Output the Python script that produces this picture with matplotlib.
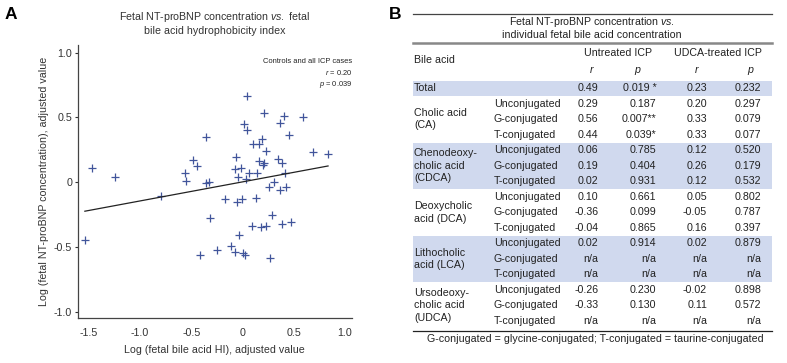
import matplotlib
matplotlib.use("Agg")
import matplotlib.pyplot as plt
from matplotlib.patches import Rectangle

plt.rcParams['font.family'] = ['Liberation Sans', 'DejaVu Sans']
plt.rcParams['mathtext.fontset'] = 'custom'
plt.rcParams['mathtext.rm'] = 'Liberation Sans'
plt.rcParams['mathtext.it'] = 'Liberation Sans:italic'

# ---------------- Panel A data ----------------
x_hi = [0.045, 0.21, 0.41, 0.59, 0.016, 0.37, 0.045, -0.36, 0.45, 0.10,
        0.16, 0.195, 0.234, 0.69, 0.833, -0.06, -0.48, -0.446, -0.557, -0.55,
        0.16, 0.20, 0.21, 0.35, 0.387, -0.07, -0.01, 0.065, 0.143, -0.043,
        0.039, 0.413, -0.36, -0.33, 0.31, 0.257, 0.37, 0.43, -0.795, -0.173,
        -0.053, 0.0, 0.13, -0.313, 0.286, 0.094, 0.178, 0.23, 0.384, 0.47,
        -0.033, -0.117, -0.25, -0.072, 0.006, 0.02, -0.414, 0.27, -1.47, -1.25,
        -1.54]
y_bnp = [0.664, 0.53, 0.51, 0.50, 0.448, 0.456, 0.40, 0.35, 0.36, 0.293,
         0.293, 0.335, 0.24, 0.234, 0.216, 0.196, 0.17, 0.121, 0.072, 0.01,
         0.16, 0.131, 0.144, 0.18, 0.144, 0.098, 0.106, 0.067, 0.067, 0.039,
         0.026, 0.067, -0.008, 0.0, 0.002, -0.04, -0.062, -0.041, -0.11, -0.134,
         -0.152, -0.134, -0.124, -0.275, -0.255, -0.337, -0.345, -0.337, -0.327, -0.306,
         -0.412, -0.494, -0.528, -0.538, -0.548, -0.564, -0.566, -0.589, 0.11, 0.04,
         -0.45]
fit_x = [-1.54, 0.836]
fit_slope = 0.147
fit_intercept = 0.001
x_ticks = [-1.5, -1.0, -0.5, 0, 0.5, 1.0]
x_ticklabels = ["-1.5", "-1.0", "-0.5", "0", "0.5", "1.0"]
y_ticks = [-1.0, -0.5, 0, 0.5, 1.0]
y_ticklabels = ["-1.0", "-0.5", "0", "0.5", "1.0"]

# ---------------- Panel B data ----------------
groups = ["Total", "Cholic acid\n(CA)", "Chenodeoxy-\ncholic acid\n(CDCA)",
          "Deoxycholic\nacid (DCA)", "Lithocholic\nacid (LCA)",
          "Ursodeoxy-\ncholic acid\n(UDCA)"]
group_shaded = [True, False, True, False, True, False]
subtypes = ["Unconjugated", "G-conjugated", "T-conjugated"]
r_untreated = ["0.49", "0.29", "0.56", "0.44", "0.06", "0.19", "0.02", "0.10",
               "-0.36", "-0.04", "0.02", "n/a", "n/a", "-0.26", "-0.33", "n/a"]
p_untreated = ["0.019 *", "0.187", "0.007**", "0.039*", "0.785", "0.404", "0.931",
               "0.661", "0.099", "0.865", "0.914", "n/a", "n/a", "0.230", "0.130", "n/a"]
r_udca = ["0.23", "0.20", "0.33", "0.33", "0.12", "0.26", "0.12", "0.05",
          "-0.05", "0.16", "0.02", "n/a", "n/a", "-0.02", "0.11", "n/a"]
p_udca = ["0.232", "0.297", "0.079", "0.077", "0.520", "0.179", "0.532", "0.802",
          "0.787", "0.397", "0.879", "n/a", "n/a", "0.898", "0.572", "n/a"]

W, H = 787, 363
fig = plt.figure(figsize=(W / 100, H / 100), dpi=100)

# ---------------- Panel A ----------------
ax = fig.add_axes([77.7 / W, 1 - 318 / H, (352 - 77.7) / W, (318 - 45) / H])
marker_color = '#41559b'
ax.plot(x_hi, y_bnp, linestyle='none', marker='+', markersize=6.2,
        markeredgewidth=0.9, color=marker_color)
fy = [fit_intercept + fit_slope * v for v in fit_x]
ax.plot(fit_x, fy, color='#222222', lw=0.9)
ax.set_xlim(-1.61, 1.07)
ax.set_ylim(-1.05, 1.058)
ax.set_xticks(x_ticks)
ax.set_xticklabels(x_ticklabels)
ax.set_yticks(y_ticks)
ax.set_yticklabels(y_ticklabels)
for s in ['top', 'right']:
    ax.spines[s].set_visible(False)
for s in ['left', 'bottom']:
    ax.spines[s].set_color('#444444')
    ax.spines[s].set_linewidth(0.9)
fa = 7.7
ax.tick_params(axis='x', length=0, pad=7, labelsize=fa, colors='#333333')
ax.tick_params(axis='y', length=2.5, width=0.8, pad=1.5, labelsize=fa,
               colors='#333333')
ax.set_xlabel("Log (fetal bile acid HI), adjusted value", fontsize=fa,
              color='#333333', labelpad=5.5)
ax.set_ylabel("Log (fetal NT-proBNP concentration), adjusted value",
              fontsize=fa, color='#333333', labelpad=3.5)
ax.set_title("Fetal NT-proBNP concentration $\\mathit{vs.}$ fetal\n"
             "bile acid hydrophobicity index", fontsize=fa, color='#333333',
             pad=8, linespacing=1.2)
ax.text(1.0, 0.94, "Controls and all ICP cases", transform=ax.transAxes,
        ha='right', va='center', fontsize=5.4, color='#222222')
ax.text(1.0, 0.898, "$\\mathit{r}$ = 0.20", transform=ax.transAxes,
        ha='right', va='center', fontsize=5.4, color='#222222')
ax.text(1.0, 0.856, "$\\mathit{p}$ = 0.039", transform=ax.transAxes,
        ha='right', va='center', fontsize=5.4, color='#222222')

# ---------------- Panel B (table) ----------------
tb = fig.add_axes([0, 0, 1, 1])
tb.set_xlim(0, W)
tb.set_ylim(H, 0)
tb.axis('off')

fig.text(10.7 / W, 1 - 14.5 / H, "A", fontsize=12.5, fontweight='bold',
         ha='center', va='center')
fig.text(395 / W, 1 - 14.5 / H, "B", fontsize=12.5, fontweight='bold',
         ha='center', va='center')

x0, x1 = 412.7, 771.5
fs = 7.7
tc = '#222222'
tb.plot([x0, x1], [14, 14], color='#444444', lw=0.9)
tb.plot([x0, x1], [43, 43], color='#888888', lw=1.8)
tb.plot([x0, x1], [331, 331], color='#222222', lw=0.9)
tb.text((x0 + x1) / 2, 22, "Fetal NT-proBNP concentration $\\mathit{vs.}$",
        ha='center', va='center', fontsize=fs, color=tc)
tb.text((x0 + x1) / 2, 34.5, "individual fetal bile acid concentration",
        ha='center', va='center', fontsize=fs, color=tc)

tb.text(414, 60, "Bile acid", ha='left', va='center', fontsize=fs, color=tc)
tb.text(618, 53, "Untreated ICP", ha='center', va='center', fontsize=fs, color=tc)
tb.text(718, 53, "UDCA-treated ICP", ha='center', va='center', fontsize=fs, color=tc)
for xx, lab in [(591.5, 'r'), (637, 'p'), (696.5, 'r'), (750, 'p')]:
    tb.text(xx, 70, lab, ha='center', va='center', fontsize=fs, color=tc,
            style='italic')

row0, pitch = 88.3, 15.5
half = 7.8
band_color = '#d0d9ee'
col_r1, col_p1, col_r2, col_p2 = 598.7, 656.5, 707, 761.5

row = 0
for g, name in enumerate(groups):
    nrows = 1 if g == 0 else len(subtypes)
    y_first = row0 + row * pitch
    y_last = row0 + (row + nrows - 1) * pitch
    if group_shaded[g]:
        tb.add_patch(Rectangle((x0, y_first - half), x1 - x0,
                               (y_last - y_first) + 2 * half,
                               facecolor=band_color, edgecolor='none', zorder=0))
    y_mid = (y_first + y_last) / 2
    tb.text(414, y_mid, name, ha='left', va='center', fontsize=fs, color=tc,
            linespacing=1.3)
    for k in range(nrows):
        i = row + k
        yy = row0 + i * pitch
        if g > 0:
            tb.text(494, yy, subtypes[k], ha='left', va='center', fontsize=fs,
                    color=tc)
        tb.text(col_r1, yy, r_untreated[i], ha='right', va='center', fontsize=fs, color=tc)
        tb.text(col_p1, yy, p_untreated[i], ha='right', va='center', fontsize=fs, color=tc)
        tb.text(col_r2, yy, r_udca[i], ha='right', va='center', fontsize=fs, color=tc)
        tb.text(col_p2, yy, p_udca[i], ha='right', va='center', fontsize=fs, color=tc)
    row += nrows

tb.text((x0 + x1) / 2 + 3, 338.5,
        "G-conjugated = glycine-conjugated; T-conjugated = taurine-conjugated",
        ha='center', va='center', fontsize=fs, color=tc)

fig.savefig("out.png", dpi=100)
